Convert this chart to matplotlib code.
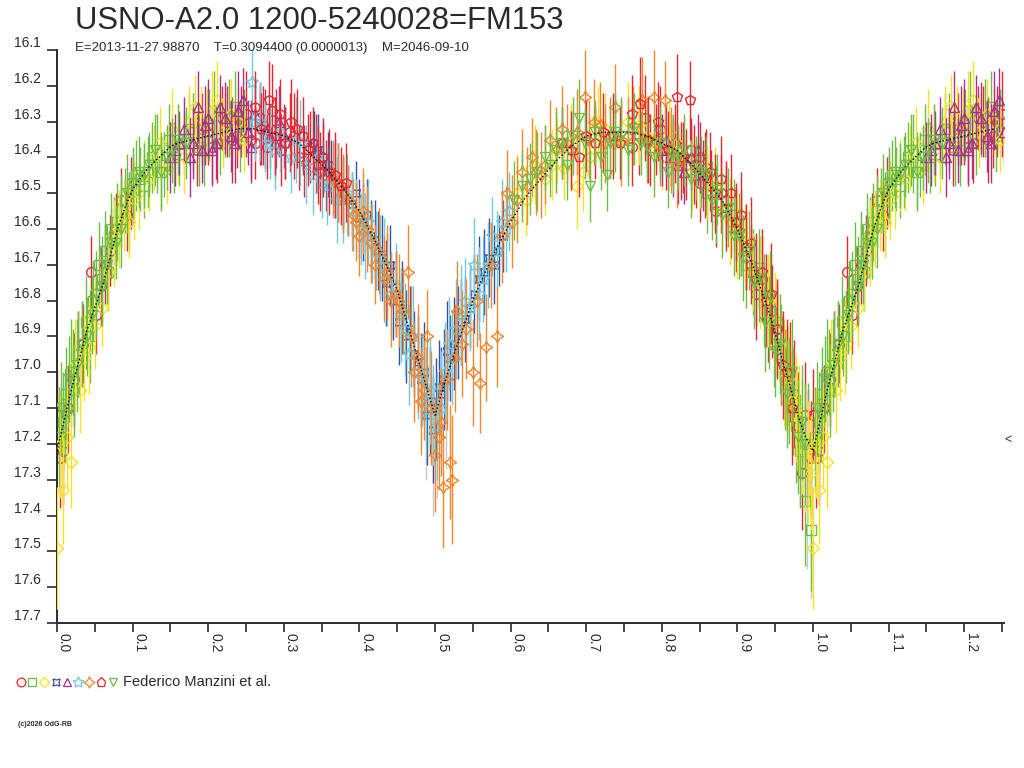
import matplotlib

matplotlib.use("Agg")
import matplotlib.pyplot as plt
import numpy as np
from matplotlib.transforms import ScaledTranslation, blended_transform_factory

plt.rcParams["font.family"] = ["Liberation Sans", "DejaVu Sans"]

TITLE = "USNO-A2.0 1200-5240028=FM153"
SUBTITLE = "E=2013-11-27.98870    T=0.3094400 (0.0000013)    M=2046-09-10"
OBSERVER = "Federico Manzini et al."
FOOTER = "(c)2026 OdG-RB"

# ── Observations (phase, magnitude, error) per observer symbol ───────────
RC_PH = [0.000, 0.008, 0.015, 0.022, 0.035, 0.045, 0.058, 0.070, 0.085, 0.098,
         0.185, 0.200, 0.212, 0.225, 0.238, 0.250, 0.262, 0.272, 0.285, 0.296, 0.308, 0.320, 0.335, 0.348,
         0.760, 0.778, 0.792, 0.805, 0.818, 0.832, 0.845, 0.858, 0.872, 0.885, 0.898, 0.912, 0.925, 0.940,
         0.952, 0.965, 0.975, 0.985, 0.993,
         0.004, 0.028, 0.052, 0.064, 0.078, 0.092,
         0.192, 0.205, 0.218, 0.232, 0.244, 0.256, 0.268, 0.278, 0.290, 0.302, 0.314, 0.327, 0.342, 0.356,
         0.770, 0.785, 0.798, 0.812, 0.825, 0.838, 0.851, 0.865, 0.878, 0.892, 0.905, 0.918, 0.932, 0.946,
         0.958, 0.970, 0.980, 0.989, 0.997]
RC_MAG = [17.12, 17.22, 17.10, 17.02, 16.92, 16.72, 16.76, 16.66, 16.52, 16.50,
          16.38, 16.33, 16.36, 16.30, 16.34, 16.28, 16.36, 16.31, 16.27, 16.38, 16.33, 16.40, 16.37, 16.44,
          16.37, 16.29, 16.35, 16.40, 16.36, 16.42, 16.45, 16.43, 16.55, 16.52, 16.60, 16.66, 16.78, 16.85,
          16.88, 17.02, 17.06, 17.28, 17.20,
          17.24, 16.95, 16.84, 16.70, 16.60, 16.56,
          16.32, 16.37, 16.29, 16.35, 16.30, 16.35, 16.29, 16.37, 16.32, 16.36, 16.34, 16.41, 16.39, 16.45,
          16.34, 16.38, 16.32, 16.38, 16.41, 16.38, 16.47, 16.48, 16.50, 16.58, 16.61, 16.70, 16.74, 16.83,
          16.96, 17.00, 17.15, 17.12, 17.24]
RC_ERR = [0.13, 0.15, 0.12, 0.13, 0.11, 0.10, 0.11, 0.10, 0.09, 0.10,
          0.10, 0.09, 0.11, 0.10, 0.09, 0.12, 0.10, 0.11, 0.13, 0.10, 0.11, 0.09, 0.10, 0.11,
          0.11, 0.12, 0.10, 0.09, 0.11, 0.10, 0.09, 0.11, 0.10, 0.11, 0.12, 0.11, 0.13, 0.12,
          0.13, 0.14, 0.15, 0.16, 0.15,
          0.14, 0.12, 0.11, 0.11, 0.10, 0.10,
          0.10, 0.11, 0.09, 0.12, 0.10, 0.11, 0.10, 0.09, 0.11, 0.10, 0.12, 0.10, 0.11, 0.10,
          0.11, 0.10, 0.12, 0.10, 0.11, 0.09, 0.11, 0.10, 0.11, 0.10, 0.12, 0.11, 0.12, 0.13,
          0.13, 0.14, 0.15, 0.15, 0.16]

GS_PH = [0.003, 0.012, 0.018, 0.028, 0.038, 0.048, 0.055, 0.063, 0.072, 0.080, 0.090, 0.100,
         0.110, 0.120, 0.132, 0.142, 0.155, 0.168, 0.180, 0.195, 0.208, 0.222, 0.235, 0.248,
         0.860, 0.885, 0.905, 0.920, 0.935, 0.948, 0.958, 0.968, 0.978, 0.990, 0.997,
         0.008, 0.023, 0.033, 0.043, 0.059, 0.068, 0.076, 0.085, 0.095, 0.105, 0.115, 0.126,
         0.137, 0.148, 0.162, 0.174, 0.188, 0.201, 0.215, 0.228, 0.242,
         0.872, 0.895, 0.912, 0.928, 0.942, 0.953, 0.963, 0.973, 0.983, 0.993]
GS_MAG = [17.18, 17.06, 17.00, 16.95, 16.86, 16.80, 16.70, 16.66, 16.60, 16.58, 16.52, 16.49,
          16.46, 16.44, 16.39, 16.42, 16.40, 16.36, 16.33, 16.38, 16.27, 16.31, 16.26, 16.30,
          16.50, 16.55, 16.62, 16.72, 16.80, 16.92, 16.95, 17.05, 17.15, 17.36, 17.44,
          17.14, 17.05, 16.92, 16.90, 16.74, 16.72, 16.62, 16.55, 16.55, 16.45, 16.48, 16.40,
          16.44, 16.35, 16.39, 16.32, 16.37, 16.31, 16.36, 16.29, 16.34,
          16.53, 16.56, 16.70, 16.71, 16.86, 16.86, 17.02, 17.08, 17.22, 17.20]
GS_ERR = [0.14, 0.13, 0.15, 0.12, 0.13, 0.11, 0.12, 0.11, 0.10, 0.11, 0.09, 0.10,
          0.09, 0.10, 0.11, 0.09, 0.10, 0.09, 0.11, 0.10, 0.11, 0.09, 0.10, 0.09,
          0.11, 0.10, 0.11, 0.12, 0.13, 0.12, 0.14, 0.15, 0.16, 0.18, 0.17,
          0.14, 0.13, 0.12, 0.13, 0.12, 0.11, 0.11, 0.10, 0.11, 0.10, 0.09, 0.10,
          0.11, 0.10, 0.09, 0.10, 0.11, 0.10, 0.09, 0.11, 0.10,
          0.11, 0.10, 0.12, 0.11, 0.13, 0.12, 0.14, 0.15, 0.16, 0.17]

YD_PH = [0.000, 0.008, 0.018, 0.030, 0.042, 0.060, 0.075, 0.088, 0.102, 0.115, 0.128, 0.145,
         0.160, 0.175, 0.190, 0.205, 0.220, 0.240,
         0.620, 0.632, 0.655, 0.670, 0.688, 0.696, 0.725, 0.745, 0.770, 0.790, 0.810, 0.830,
         0.850, 0.870, 0.890, 0.910, 0.930, 0.950, 0.962, 0.972, 0.982, 0.990, 0.997,
         0.004, 0.013, 0.024, 0.036, 0.050, 0.068, 0.082, 0.095, 0.108, 0.122, 0.136, 0.152,
         0.168, 0.182, 0.198, 0.212, 0.230, 0.248,
         0.608, 0.645, 0.662, 0.680, 0.705, 0.715, 0.735, 0.755, 0.780, 0.800, 0.820, 0.840,
         0.860, 0.880, 0.900, 0.920, 0.940, 0.956, 0.967, 0.977, 0.986, 0.994]
YD_MAG = [17.49, 17.33, 17.25, 17.05, 16.93, 16.82, 16.64, 16.56, 16.52, 16.45, 16.40, 16.43,
          16.36, 16.30, 16.29, 16.27, 16.33, 16.30,
          16.52, 16.42, 16.42, 16.43, 16.48, 16.44, 16.32, 16.35, 16.31, 16.38, 16.33, 16.40,
          16.44, 16.48, 16.58, 16.64, 16.75, 16.86, 17.00, 17.08, 17.13, 17.22, 17.28,
          17.20, 17.18, 16.98, 16.96, 16.87, 16.72, 16.60, 16.58, 16.50, 16.46, 16.36, 16.32,
          16.40, 16.26, 16.31, 16.24, 16.28, 16.35,
          16.50, 16.46, 16.38, 16.35, 16.40, 16.30, 16.36, 16.30, 16.34, 16.40, 16.36, 16.44,
          16.47, 16.55, 16.62, 16.72, 16.80, 16.92, 17.02, 17.10, 17.18, 17.25]
YD_ERR = [0.17, 0.15, 0.13, 0.12, 0.13, 0.11, 0.12, 0.10, 0.11, 0.10, 0.09, 0.10,
          0.11, 0.10, 0.09, 0.11, 0.10, 0.09,
          0.10, 0.11, 0.10, 0.09, 0.12, 0.11, 0.10, 0.09, 0.11, 0.10, 0.09, 0.11,
          0.10, 0.11, 0.12, 0.11, 0.13, 0.14, 0.15, 0.16, 0.15, 0.17, 0.16,
          0.15, 0.14, 0.13, 0.12, 0.12, 0.11, 0.11, 0.10, 0.10, 0.09, 0.10, 0.11,
          0.10, 0.09, 0.10, 0.11, 0.10, 0.09,
          0.11, 0.10, 0.09, 0.10, 0.11, 0.10, 0.09, 0.11, 0.10, 0.09, 0.10, 0.11,
          0.10, 0.11, 0.12, 0.11, 0.13, 0.14, 0.15, 0.15, 0.16, 0.17]

BX_PH = [0.340, 0.352, 0.362, 0.372, 0.385, 0.395, 0.405, 0.415, 0.425, 0.435, 0.445, 0.452, 0.462,
         0.472, 0.482, 0.490, 0.497, 0.505, 0.512, 0.520, 0.530, 0.540, 0.552, 0.565, 0.578, 0.590,
         0.345, 0.358, 0.368, 0.378, 0.390, 0.400, 0.410, 0.420, 0.430, 0.440, 0.448, 0.457, 0.467,
         0.477, 0.486, 0.494, 0.501, 0.508, 0.516, 0.525, 0.535, 0.546, 0.558, 0.571, 0.584]
BX_MAG = [16.36, 16.40, 16.44, 16.47, 16.52, 16.50, 16.58, 16.62, 16.66, 16.75, 16.80, 16.86, 16.90,
          16.95, 17.02, 17.12, 17.16, 17.04, 17.02, 16.96, 16.89, 16.85, 16.78, 16.72, 16.70, 16.62,
          16.38, 16.42, 16.46, 16.50, 16.53, 16.57, 16.56, 16.63, 16.68, 16.70, 16.78, 16.82, 16.88,
          16.97, 17.00, 17.08, 17.10, 17.06, 16.94, 16.92, 16.86, 16.82, 16.74, 16.68, 16.66]
BX_ERR = [0.09, 0.10, 0.09, 0.11, 0.10, 0.09, 0.11, 0.10, 0.11, 0.12, 0.11, 0.12, 0.13,
          0.12, 0.13, 0.14, 0.15, 0.13, 0.14, 0.12, 0.13, 0.12, 0.11, 0.12, 0.11, 0.10,
          0.10, 0.09, 0.11, 0.10, 0.09, 0.11, 0.10, 0.11, 0.12, 0.11, 0.12, 0.13, 0.12,
          0.13, 0.14, 0.15, 0.14, 0.13, 0.14, 0.13, 0.12, 0.11, 0.12, 0.11, 0.10]

PT_PH = [0.150, 0.162, 0.176, 0.186, 0.192, 0.200, 0.210, 0.216, 0.230, 0.240, 0.252, 0.262,
         0.275, 0.288, 0.300, 0.800, 0.815, 0.830, 0.848,
         0.156, 0.168, 0.180, 0.196, 0.205, 0.222, 0.235, 0.246, 0.257, 0.268, 0.282, 0.294,
         0.806, 0.822, 0.838, 0.855]
PT_MAG = [16.40, 16.36, 16.40, 16.26, 16.38, 16.29, 16.36, 16.26, 16.34, 16.27, 16.33, 16.28,
          16.32, 16.36, 16.34, 16.38, 16.40, 16.44, 16.38,
          16.38, 16.32, 16.36, 16.31, 16.38, 16.29, 16.36, 16.24, 16.37, 16.31, 16.34, 16.30,
          16.35, 16.42, 16.40, 16.45]
PT_ERR = [0.10, 0.09, 0.11, 0.10, 0.09, 0.11, 0.10, 0.09, 0.10, 0.11, 0.09, 0.10,
          0.11, 0.10, 0.09, 0.10, 0.11, 0.09, 0.10,
          0.10, 0.09, 0.10, 0.11, 0.09, 0.10, 0.11, 0.09, 0.10, 0.11, 0.09, 0.10,
          0.10, 0.11, 0.09, 0.10]

CS_PH = [0.258, 0.268, 0.282, 0.295, 0.310, 0.322, 0.338, 0.350, 0.365, 0.378, 0.390, 0.402,
         0.412, 0.422, 0.432, 0.442, 0.455, 0.465, 0.478, 0.488, 0.498, 0.508, 0.518, 0.528,
         0.540, 0.552, 0.563, 0.575, 0.588, 0.598,
         0.262, 0.275, 0.288, 0.302, 0.316, 0.330, 0.344, 0.357, 0.371, 0.384, 0.396, 0.407,
         0.417, 0.427, 0.437, 0.448, 0.460, 0.471, 0.483, 0.493, 0.503, 0.513, 0.523, 0.534,
         0.546, 0.558, 0.570, 0.582, 0.594]
CS_MAG = [16.19, 16.30, 16.36, 16.33, 16.40, 16.36, 16.45, 16.47, 16.46, 16.52, 16.55, 16.60,
          16.58, 16.66, 16.70, 16.78, 16.84, 16.95, 17.00, 17.08, 17.12, 17.10, 16.92, 16.88,
          16.80, 16.70, 16.74, 16.62, 16.58, 16.55,
          16.30, 16.34, 16.38, 16.36, 16.35, 16.42, 16.40, 16.48, 16.52, 16.50, 16.56, 16.62,
          16.64, 16.68, 16.74, 16.76, 16.88, 16.90, 17.02, 17.05, 17.15, 17.00, 16.96, 16.84,
          16.82, 16.78, 16.70, 16.66, 16.60]
CS_ERR = [0.12, 0.11, 0.10, 0.11, 0.10, 0.12, 0.11, 0.10, 0.11, 0.12, 0.11, 0.10,
          0.12, 0.11, 0.13, 0.12, 0.13, 0.14, 0.13, 0.15, 0.14, 0.16, 0.13, 0.14,
          0.12, 0.13, 0.12, 0.11, 0.12, 0.11,
          0.11, 0.10, 0.11, 0.10, 0.12, 0.11, 0.10, 0.11, 0.12, 0.11, 0.10, 0.12,
          0.11, 0.12, 0.13, 0.12, 0.13, 0.14, 0.13, 0.15, 0.15, 0.14, 0.13, 0.14,
          0.12, 0.13, 0.12, 0.11, 0.12]

OD_PH = [0.365, 0.378, 0.392, 0.400, 0.410, 0.420, 0.432, 0.442, 0.458, 0.464,
         0.472, 0.482, 0.490, 0.500, 0.505, 0.511, 0.520, 0.522, 0.529, 0.536,
         0.550, 0.560, 0.568, 0.582, 0.595, 0.602, 0.615, 0.628, 0.640, 0.652,
         0.668, 0.680, 0.698, 0.710, 0.725, 0.738, 0.755, 0.774, 0.790, 0.804, 0.820,
         0.372, 0.385, 0.396, 0.405, 0.415, 0.426, 0.437, 0.448, 0.453, 0.468,
         0.477, 0.486, 0.495, 0.508, 0.516, 0.526, 0.541, 0.556, 0.574, 0.588,
         0.608, 0.622, 0.634, 0.646, 0.660, 0.674, 0.688, 0.704, 0.718, 0.732,
         0.746, 0.762, 0.780, 0.797, 0.812]
OD_MAG = [16.46, 16.50, 16.56, 16.62, 16.60, 16.70, 16.74, 16.80, 16.83, 16.72,
          17.00, 17.08, 16.90, 17.23, 17.18, 17.32, 17.25, 17.30, 16.83, 16.92,
          17.00, 17.03, 16.93, 16.90, 16.50, 16.58, 16.44, 16.40, 16.45, 16.35,
          16.32, 16.38, 16.23, 16.30, 16.36, 16.26, 16.34, 16.24, 16.23, 16.24, 16.42,
          16.47, 16.52, 16.58, 16.55, 16.64, 16.66, 16.72, 16.78, 16.80, 16.90,
          16.96, 17.05, 17.10, 17.14, 17.02, 16.96, 16.88, 16.80, 16.70, 16.62,
          16.52, 16.48, 16.44, 16.42, 16.38, 16.36, 16.33, 16.35, 16.31, 16.34,
          16.36, 16.31, 16.35, 16.37, 16.38]
OD_ERR = [0.10, 0.11, 0.10, 0.11, 0.12, 0.11, 0.12, 0.13, 0.12, 0.13,
          0.14, 0.15, 0.13, 0.16, 0.15, 0.17, 0.16, 0.18, 0.14, 0.15,
          0.15, 0.14, 0.15, 0.14, 0.12, 0.13, 0.12, 0.11, 0.12, 0.11,
          0.12, 0.11, 0.13, 0.12, 0.11, 0.12, 0.11, 0.12, 0.13, 0.11, 0.12,
          0.11, 0.10, 0.11, 0.12, 0.11, 0.12, 0.13, 0.12, 0.13, 0.14,
          0.15, 0.14, 0.16, 0.15, 0.14, 0.15, 0.14, 0.13, 0.12, 0.13,
          0.12, 0.11, 0.12, 0.11, 0.12, 0.11, 0.12, 0.11, 0.12, 0.11,
          0.12, 0.11, 0.12, 0.11, 0.12]

RP_PH = [0.262, 0.280, 0.295, 0.310, 0.325, 0.338, 0.352, 0.368, 0.382,
         0.668, 0.690, 0.712, 0.735, 0.760, 0.771, 0.795, 0.820, 0.837, 0.850,
         0.864, 0.878, 0.892, 0.905, 0.918, 0.932, 0.945, 0.960, 0.972,
         0.270, 0.288, 0.302, 0.318, 0.332, 0.345, 0.360, 0.375,
         0.680, 0.700, 0.722, 0.745, 0.782, 0.808, 0.828, 0.843, 0.857,
         0.871, 0.885, 0.898, 0.911, 0.925, 0.938, 0.952, 0.966]
RP_MAG = [16.26, 16.24, 16.28, 16.30, 16.34, 16.36, 16.40, 16.45, 16.47,
          16.36, 16.40, 16.36, 16.34, 16.28, 16.25, 16.30, 16.23, 16.24, 16.40,
          16.44, 16.46, 16.50, 16.56, 16.64, 16.72, 16.78, 16.98, 17.10,
          16.32, 16.34, 16.36, 16.32, 16.38, 16.42, 16.44, 16.48,
          16.38, 16.34, 16.33, 16.36, 16.35, 16.38, 16.40, 16.42, 16.45,
          16.50, 16.54, 16.58, 16.65, 16.74, 16.80, 16.88, 17.00]
RP_ERR = [0.10, 0.11, 0.10, 0.12, 0.11, 0.10, 0.11, 0.12, 0.11,
          0.10, 0.11, 0.10, 0.12, 0.11, 0.13, 0.11, 0.12, 0.11, 0.10,
          0.11, 0.12, 0.11, 0.12, 0.13, 0.12, 0.14, 0.15, 0.16,
          0.10, 0.11, 0.10, 0.11, 0.10, 0.11, 0.12, 0.11,
          0.11, 0.10, 0.11, 0.10, 0.12, 0.11, 0.10, 0.11, 0.12,
          0.11, 0.12, 0.11, 0.12, 0.13, 0.13, 0.14, 0.15]

GT_PH = [0.005, 0.016, 0.026, 0.040, 0.052, 0.066, 0.078, 0.092, 0.108, 0.122, 0.138, 0.152, 0.170,
         0.605, 0.625, 0.645, 0.660, 0.675, 0.690, 0.705, 0.720, 0.727, 0.738,
         0.755, 0.772, 0.790, 0.808, 0.822, 0.838, 0.852, 0.866, 0.880, 0.895,
         0.908, 0.922, 0.936, 0.950, 0.965, 0.980, 0.990,
         0.010, 0.021, 0.033, 0.046, 0.059, 0.072, 0.085, 0.100, 0.115, 0.130, 0.145, 0.160,
         0.615, 0.635, 0.652, 0.668, 0.682, 0.698, 0.712, 0.732, 0.746, 0.763, 0.780, 0.798,
         0.815, 0.830, 0.845, 0.859, 0.873, 0.887, 0.902, 0.915, 0.929, 0.943, 0.957, 0.972, 0.985]
GT_MAG = [17.10, 17.02, 16.98, 16.90, 16.78, 16.70, 16.64, 16.50, 16.44, 16.42, 16.44, 16.38, 16.36,
          16.52, 16.46, 16.40, 16.38, 16.42, 16.29, 16.48, 16.40, 16.45, 16.33,
          16.38, 16.36, 16.40, 16.44, 16.40, 16.46, 16.44, 16.52, 16.56, 16.62,
          16.68, 16.75, 16.86, 16.94, 17.06, 17.18, 17.20,
          17.12, 17.00, 16.92, 16.84, 16.76, 16.64, 16.60, 16.47, 16.45, 16.38, 16.40, 16.35,
          16.48, 16.44, 16.42, 16.36, 16.34, 16.36, 16.33, 16.36, 16.34, 16.32, 16.37, 16.36,
          16.39, 16.38, 16.43, 16.45, 16.49, 16.54, 16.62, 16.66, 16.74, 16.79, 16.92, 17.00, 17.14]
GT_ERR = [0.13, 0.12, 0.13, 0.11, 0.12, 0.11, 0.10, 0.11, 0.10, 0.09, 0.10, 0.09, 0.10,
          0.11, 0.10, 0.09, 0.11, 0.10, 0.11, 0.10, 0.09, 0.10, 0.11,
          0.10, 0.09, 0.11, 0.10, 0.09, 0.11, 0.10, 0.11, 0.12, 0.11,
          0.12, 0.13, 0.14, 0.13, 0.15, 0.16, 0.17,
          0.13, 0.12, 0.12, 0.11, 0.11, 0.10, 0.11, 0.10, 0.09, 0.10, 0.09, 0.10,
          0.10, 0.11, 0.09, 0.10, 0.11, 0.10, 0.09, 0.10, 0.11, 0.10, 0.09, 0.10,
          0.11, 0.10, 0.09, 0.11, 0.10, 0.11, 0.12, 0.11, 0.12, 0.13, 0.14, 0.15, 0.16]

# rejected points (error bar only, grey)
GR_PH = [0.488, 0.497, 0.503, 0.515, 0.992, 0.998]
GR_MAG = [17.18, 17.26, 17.22, 17.15, 17.40, 17.50]
GR_ERR = [0.12, 0.14, 0.13, 0.12, 0.15, 0.13]

# fitted light curve (black dotted)
MODEL_PH = [0.00, 0.01, 0.02, 0.03, 0.04, 0.05, 0.06, 0.07, 0.08, 0.09, 0.10, 0.11, 0.12, 0.13,
            0.14, 0.15, 0.16, 0.18, 0.20, 0.22, 0.24, 0.26, 0.28, 0.30, 0.32, 0.34, 0.36, 0.38,
            0.40, 0.42, 0.44, 0.45, 0.46, 0.47, 0.48, 0.49, 0.50, 0.51, 0.52, 0.53, 0.54, 0.55,
            0.56, 0.58, 0.60, 0.62, 0.64, 0.66, 0.68, 0.70, 0.72, 0.74, 0.76, 0.78, 0.80, 0.82,
            0.84, 0.86, 0.88, 0.90, 0.91, 0.92, 0.93, 0.94, 0.95, 0.96, 0.97, 0.98, 0.99, 1.00]
MODEL_MAG = [17.22, 17.13, 17.04, 16.96, 16.88, 16.82, 16.76, 16.68, 16.60, 16.54, 16.49, 16.46, 16.43, 16.41,
             16.39, 16.37, 16.36, 16.35, 16.34, 16.33, 16.32, 16.32, 16.33, 16.34, 16.36, 16.40, 16.44, 16.49,
             16.55, 16.63, 16.72, 16.77, 16.84, 16.91, 16.98, 17.05, 17.12, 17.05, 16.98, 16.92, 16.86, 16.80,
             16.75, 16.66, 16.58, 16.51, 16.46, 16.41, 16.37, 16.34, 16.33, 16.33, 16.33, 16.34, 16.36, 16.38,
             16.42, 16.47, 16.52, 16.60, 16.65, 16.70, 16.76, 16.82, 16.89, 16.97, 17.04, 17.12, 17.18, 17.22]

LIMIT_MAG = 17.19

INK = "#2a2a2a"
RED = "#e8262d"
GREEN = "#6cbd45"
YELLOW = "#f7e21c"
BLUE = "#3b4ea0"
PURPLE = "#a4318c"
CYAN = "#6dcae0"
ORANGE = "#f5862b"

SERIES = [
    (RC_PH, RC_MAG, RC_ERR, "o", RED, 7.0),
    (GS_PH, GS_MAG, GS_ERR, "s", GREEN, 6.5),
    (YD_PH, YD_MAG, YD_ERR, "D", YELLOW, 6.0),
    (BX_PH, BX_MAG, BX_ERR, (4, 1, 45), BLUE, 8.0),
    (PT_PH, PT_MAG, PT_ERR, "^", PURPLE, 7.0),
    (CS_PH, CS_MAG, CS_ERR, (5, 1, 0), CYAN, 9.0),
    (OD_PH, OD_MAG, OD_ERR, (4, 1, 0), ORANGE, 9.0),
    (RP_PH, RP_MAG, RP_ERR, "p", RED, 7.5),
    (GT_PH, GT_MAG, GT_ERR, "v", GREEN, 7.0),
]

W, H = 1024, 768
XMAX = (1004 - 57) / 756.0


def _wrap(ph, *cols):
    """Repeat the start of the cycle after phase 1 (phase-folded plot)."""
    ph = np.asarray(ph, dtype=float)
    rep = ph <= XMAX - 1.0 + 1e-9
    out = [np.concatenate([ph, ph[rep] + 1.0])]
    for c in cols:
        c = np.asarray(c, dtype=float)
        out.append(np.concatenate([c, c[rep]]))
    return out


fig = plt.figure(figsize=(W / 100, H / 100), dpi=100)
fig.patch.set_facecolor("white")
ax = fig.add_axes([57 / W, 1 - 623 / H, (1004 - 57) / W, (623 - 50) / H])
ax.set_xlim(0, XMAX)
ax.set_ylim(17.7, 16.1)

# ── Data ──
x, y, e = _wrap(GR_PH, GR_MAG, GR_ERR)
ax.errorbar(x, y, yerr=e, fmt="none", ecolor="#c8c8c8", elinewidth=1.0, zorder=1)

for i, (ph, mag, err, marker, color, ms) in enumerate(SERIES):
    x, y, e = _wrap(ph, mag, err)
    ax.errorbar(x, y, yerr=e, fmt="none", ecolor=color, elinewidth=1.0,
                capsize=0, zorder=2 + i)
    ax.plot(x, y, linestyle="none", marker=marker, ms=ms, mfc="none",
            mec=color, mew=1.0, zorder=2 + i)

mx, my = _wrap(MODEL_PH, MODEL_MAG)
ax.plot(mx, my, color="black", linestyle=(0, (1, 1.6)), linewidth=1.0, zorder=20)

# ── Axes styling ──
for side in ("top", "right"):
    ax.spines[side].set_visible(False)
for side in ("left", "bottom"):
    ax.spines[side].set_color(INK)
    ax.spines[side].set_linewidth(1.4)
ax.patch.set_alpha(0)

xt = np.round(np.arange(0, 1.21, 0.1), 1)
ax.set_xticks(xt)
ax.set_xticks(np.round(np.arange(0.05, 1.26, 0.1), 2), minor=True)
ax.set_xticklabels([f"{v:.1f}" for v in xt], rotation=-90, ha="left", va="top")
ax.tick_params(axis="x", which="both", direction="out", length=6.5, width=1.2,
               color=INK, pad=1, labelsize=10, labelcolor=INK)

yt = np.round(np.arange(16.1, 17.75, 0.1), 1)
ax.set_yticks(yt)
ax.set_yticklabels([])
ax.tick_params(axis="y", direction="out", length=7.5, width=1.2, color=INK)
ylab_tr = blended_transform_factory(ax.transAxes, ax.transData) + \
    ScaledTranslation(-0.16, 0.07, fig.dpi_scale_trans)
for v in yt:
    ax.text(0, v, f"{v:.1f}", transform=ylab_tr, ha="right", va="center",
            fontsize=10, color=INK)

lim_tr = blended_transform_factory(ax.transAxes, ax.transData)
ax.text(1.0, LIMIT_MAG, "<", transform=lim_tr, ha="left", va="center",
        fontsize=9, color=INK, clip_on=False)

# ── Header, legend, footer in pixel coordinates ──
ov = fig.add_axes([0, 0, 1, 1])
ov.set_xlim(0, W)
ov.set_ylim(H, 0)
ov.axis("off")
ov.patch.set_alpha(0)

ov.text(75, 21, TITLE, fontsize=22.4, ha="left", va="center", color=INK)
ov.text(75, 48, SUBTITLE, fontsize=9.5, ha="left", va="center", color=INK)

leg_x = [20.5, 32, 43.5, 55.5, 66.5, 78, 89, 100.5, 112.5]
for lx, (_, _, _, marker, color, ms) in zip(leg_x, SERIES):
    ov.plot([lx], [682], linestyle="none", marker=marker, ms=ms * 0.9, mfc="none",
            mec=color, mew=0.9)
ov.text(123, 682, OBSERVER, fontsize=10.5, ha="left", va="center", color=INK)
ov.text(18, 725, FOOTER, fontsize=5, ha="left", va="center", color=INK,
        fontweight="bold")

fig.savefig("out.png", dpi=100, facecolor="white")
